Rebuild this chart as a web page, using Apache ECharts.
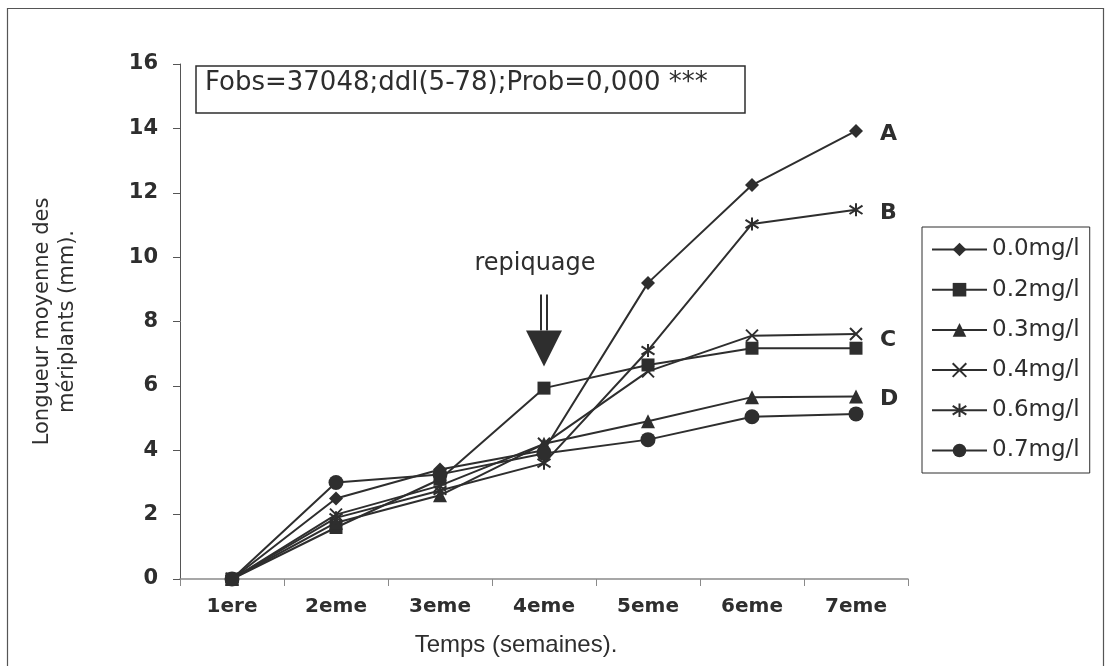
<!DOCTYPE html>
<html>
<head>
<meta charset="utf-8">
<script src="https://cdn.jsdelivr.net/npm/echarts@6/dist/echarts.min.js"></script>
<style>
  html, body { margin: 0; padding: 0; background: #fff; }
  #chart { width: 1112px; height: 666px; }
</style>
</head>
<body>
<div id="chart"></div>
<script>
// Weeks after culture start
const categories = ['1ere', '2eme', '3eme', '4eme', '5eme', '6eme', '7eme'];
const yTicks = [0, 2, 4, 6, 8, 10, 12, 14, 16];

// Mean meriplant length (mm) per hormone concentration
const seriesNames = ['0.0mg/l', '0.2mg/l', '0.3mg/l', '0.4mg/l', '0.6mg/l', '0.7mg/l'];
const c00 = [0, 2.5, 3.4, 4.0, 9.2, 12.24, 13.92];
const c02 = [0, 1.6, 3.1, 5.93, 6.65, 7.17, 7.17];
const c03 = [0, 1.75, 2.6, 4.2, 4.9, 5.65, 5.67];
const c04 = [0, 2.0, 2.9, 4.2, 6.45, 7.56, 7.61];
const c06 = [0, 1.9, 2.75, 3.6, 7.1, 11.03, 11.47];
const c07 = [0, 3.0, 3.25, 3.9, 4.33, 5.04, 5.13];

// Homogeneous groups at the final week
const groupLetters = { '0.0mg/l': 'A', '0.6mg/l': 'B', '0.4mg/l': 'C', '0.3mg/l': 'D' };
const letterOffsets = { A: 3, B: 3, C: 6, D: 3 };

const statsText = 'Fobs=37048;ddl(5-78);Prob=0,000 ***';
const arrowText = 'repiquage';

const INK = '#2e2e2e';
const FONT = '"DejaVu Sans", Verdana, sans-serif';
const FONT_TALL = '"Liberation Sans", Arial, Helvetica, sans-serif';

const crossPath = 'path://M0,0L10,10M10,0L0,10';
const starPath = 'path://M5,0L5,10M0.6,1.8L9.4,8.2M9.4,1.8L0.6,8.2';

const markers = [
  { data: c00, symbol: 'diamond', size: 14 },
  { data: c02, symbol: 'rect', size: 13 },
  { data: c03, symbol: 'triangle', size: 14 },
  { data: c04, symbol: crossPath, size: 12, stroke: true },
  { data: c06, symbol: starPath, size: 13, stroke: true },
  { data: c07, symbol: 'circle', size: 15 }
];

const series = markers.map(function (m, i) {
  const name = seriesNames[i];
  const letter = groupLetters[name];
  return {
    name: name,
    type: 'line',
    data: m.data,
    symbol: m.symbol,
    symbolSize: m.size,
    showAllSymbol: true,
    lineStyle: { color: INK, width: 2 },
    itemStyle: m.stroke
      ? { color: INK, borderColor: INK, borderWidth: 2 }
      : { color: INK, borderWidth: 0 },
    emphasis: { disabled: true },
    endLabel: letter ? {
      show: true,
      formatter: letter,
      distance: 24,
      color: INK,
      fontFamily: FONT,
      fontWeight: 'bold',
      fontSize: 22,
      offset: [0, letterOffsets[letter]]
    } : { show: false },
    animation: false
  };
});

const chart = echarts.init(document.getElementById('chart'), null, { renderer: 'canvas' });

chart.setOption({
  animation: false,
  backgroundColor: '#ffffff',
  grid: { left: 180, right: 204, top: 64, bottom: 87, containLabel: false },
  xAxis: {
    type: 'category',
    data: categories,
    boundaryGap: true,
    axisLine: { lineStyle: { color: '#8a8a8a', width: 1.5 } },
    axisTick: { show: true, length: 7, lineStyle: { color: '#8a8a8a', width: 1 } },
    axisLabel: { color: INK, fontFamily: FONT, fontWeight: 'bold', fontSize: 20, margin: 18 },
    name: 'Temps (semaines).',
    nameLocation: 'middle',
    nameGap: 54,
    nameTextStyle: { color: INK, fontFamily: FONT_TALL, fontSize: 24, padding: [0, 56, 0, 0] }
  },
  yAxis: {
    type: 'value',
    min: yTicks[0],
    max: yTicks[yTicks.length - 1],
    interval: yTicks[1] - yTicks[0],
    splitLine: { show: false },
    axisLine: { show: true, lineStyle: { color: '#555', width: 1 } },
    axisTick: { show: true, length: 7, lineStyle: { color: '#555', width: 1 } },
    axisLabel: { color: INK, fontFamily: FONT, fontWeight: 'bold', fontSize: 21, margin: 22 },
    name: 'Longueur moyenne des\nmériplants (mm).',
    nameLocation: 'middle',
    nameGap: 100,
    nameRotate: 90,
    nameTextStyle: { color: INK, fontFamily: FONT, fontSize: 21, lineHeight: 25, align: 'center' }
  },
  legend: {
    orient: 'vertical',
    left: 922,
    top: 227,
    padding: [11, 10, 11, 9],
    borderColor: INK,
    borderWidth: 1,
    itemWidth: 55,
    itemHeight: 17,
    itemGap: 17.2,
    selectedMode: false,
    data: seriesNames,
    textStyle: { color: INK, fontFamily: FONT, fontSize: 23 }
  },
  series: series
});

// Annotations placed through the chart's own coordinate system
function px(cat, val) {
  return chart.convertToPixel({ gridIndex: 0 }, [cat, val]);
}
const arrowBase = px('4eme', 6.6);
const ax = arrowBase[0];
const ay = arrowBase[1];

chart.setOption({
  graphic: [
    {
      type: 'rect',
      shape: { x: 7.5, y: 8.5, width: 1096, height: 680 },
      style: { fill: 'none', stroke: '#555', lineWidth: 1.2 },
      silent: true
    },
    {
      type: 'rect',
      shape: { x: 196, y: 66, width: 549, height: 47 },
      style: { fill: '#fff', stroke: INK, lineWidth: 1.5 },
      z: 10
    },
    {
      type: 'text',
      x: 205, y: 70,
      style: { text: statsText, fill: INK, font: '26px ' + FONT },
      z: 11
    },
    {
      type: 'text',
      x: ax - 9, y: ay - 115,
      style: { text: arrowText, fill: INK, font: '24px ' + FONT, align: 'center' },
      z: 11
    },
    {
      type: 'line',
      shape: { x1: ax - 3, y1: ay - 72, x2: ax - 3, y2: ay - 36 },
      style: { stroke: INK, lineWidth: 2 }, z: 11
    },
    {
      type: 'line',
      shape: { x1: ax + 3, y1: ay - 72, x2: ax + 3, y2: ay - 36 },
      style: { stroke: INK, lineWidth: 2 }, z: 11
    },
    {
      type: 'polygon',
      shape: { points: [[ax - 18, ay - 36], [ax + 18, ay - 36], [ax, ay]] },
      style: { fill: INK }, z: 11
    }
  ]
});
</script>
</body>
</html>
